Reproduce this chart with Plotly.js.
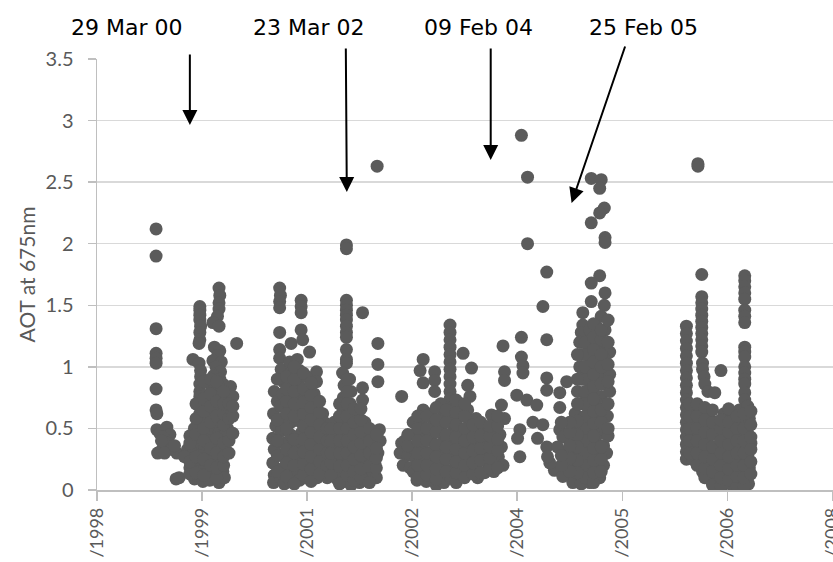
<!DOCTYPE html>
<html>
<head>
<meta charset="utf-8">
<script src="https://cdn.plot.ly/plotly-3.0.1.min.js"></script>
<style>
html,body{margin:0;padding:0;background:#fff;}
#chart{width:833px;height:562px;}
</style>
</head>
<body>
<div id="chart"></div>
<script>
// Decimal-year dates and AOT (675 nm) values, by season cluster
const yearsA = [1999.77,1999.77,1999.77,1999.77,1999.77,1999.77,1999.77,1999.77,1999.78,1999.78,1999.82,1999.91,1999.88,1999.95,1999.86,1999.79,1999.84,1999.92,1999.97,1999.99,2000.04,1999.88,2000.07,2000.03,2000.01,1999.84];
const aotA   = [2.12,1.90,1.31,1.11,1.07,1.03,0.82,0.65,0.62,0.49,0.46,0.51,0.43,0.45,0.43,0.30,0.32,0.38,0.33,0.34,0.30,0.30,0.10,0.09,0.36,0.40];

const yearsB = [2000.34,2000.34,2000.34,2000.34,2000.35,2000.34,2000.34,2000.33,2000.59,2000.60,2000.59,2000.59,2000.57,2000.51,2000.59,2000.82,
  2000.25,2000.33,2000.35,2000.35,2000.34,2000.34,2000.34,2000.53,2000.60,2000.57,2000.51,2000.62,2000.55,2000.61,2000.52,2000.60,2000.64,2000.49,2000.57,2000.74,2000.68,2000.52,2000.62,2000.77,
  2000.44,2000.56,2000.69,2000.34,2000.47,2000.61,2000.40,2000.53,2000.70,2000.27,2000.44,2000.59,2000.65,2000.21,2000.34,2000.49,2000.29,2000.40,2000.56,2000.62,2000.18,2000.25,2000.47,2000.34,2000.53,
  2000.14,2000.27,2000.42,2000.60,2000.21,2000.34,2000.49,2000.64,2000.27,2000.38,2000.47,2000.59,2000.66,
  2000.21,2000.21,2000.21,2000.29,2000.29,2000.29,2000.29,2000.29,
  2000.39,2000.39,2000.39,2000.39,2000.39,2000.39,2000.39,
  2000.48,2000.48,2000.48,2000.48,2000.48,2000.48,
  2000.56,2000.56,2000.56,2000.56,2000.56,2000.56,2000.56,
  2000.65,2000.65,2000.65,2000.65,2000.65,2000.65,2000.65,
  2000.72,2000.72,2000.72,2000.72,2000.77,2000.77,2000.77];
const aotB   = [1.49,1.46,1.42,1.38,1.33,1.28,1.22,1.19,1.64,1.58,1.52,1.47,1.41,1.36,1.33,1.19,
  1.06,1.03,0.97,0.92,0.86,0.80,0.76,1.16,1.13,1.09,1.05,1.04,1.00,0.96,0.93,0.90,0.86,0.84,0.81,0.84,0.78,0.76,0.72,0.76,
  0.70,0.67,0.65,0.62,0.60,0.58,0.55,0.53,0.50,0.50,0.48,0.46,0.44,0.44,0.42,0.40,0.37,0.35,0.36,0.33,0.33,0.30,0.29,0.28,0.26,
  0.27,0.22,0.21,0.22,0.18,0.15,0.14,0.15,0.09,0.07,0.08,0.06,0.10,
  0.13,0.23,0.38,0.14,0.27,0.45,0.58,0.70,
  0.12,0.25,0.40,0.50,0.64,0.74,0.88,
  0.20,0.34,0.55,0.68,0.78,0.90,
  0.10,0.18,0.30,0.42,0.60,0.72,0.88,
  0.20,0.27,0.38,0.53,0.62,0.70,0.80,
  0.30,0.40,0.58,0.70,0.46,0.60,0.68];

const yearsC = [2001.38,2001.39,2001.38,2001.38,2001.38,2001.38,2001.38,2001.53,2001.66,2001.66,2001.66,2001.66,2001.68,2001.77,2001.86,2001.86,
  2001.31,2001.35,2001.30,2001.33,2001.29,2001.31,2001.29,2001.31,2001.30,
  2001.40,2001.43,2001.42,2001.39,2001.43,2001.40,2001.44,2001.39,2001.43,2001.40,2001.44,
  2001.51,2001.53,2001.52,2001.55,2001.51,2001.53,2001.52,2001.55,2001.51,2001.53,2001.52,
  2001.61,2001.64,2001.62,2001.65,2001.61,2001.64,2001.66,2001.62,2001.65,2001.61,2001.64,
  2001.73,2001.75,2001.74,2001.77,2001.74,2001.78,2001.73,2001.75,2001.74,
  2001.83,2001.86,2001.85,2001.87,2001.83,2001.86,2001.85,2001.87,
  2001.94,2001.96,2001.95,2001.98,2001.94,2001.96,2002.00,
  2001.35,2001.35,2001.35,2001.35,2001.35,
  2001.47,2001.47,2001.47,2001.47,2001.47,2001.47,2001.47,2001.47,
  2001.57,2001.57,2001.57,2001.57,2001.57,2001.57,2001.57,2001.57,2001.57,
  2001.69,2001.69,2001.69,2001.69,2001.69,2001.69,2001.69,2001.69,2001.69,
  2001.79,2001.79,2001.79,2001.79,2001.79,2001.79,2001.79,2001.79,2001.79,
  2001.90,2001.90,2001.90,2001.90,2001.90,2001.90,2001.90,
  2002.00,2002.00,2002.00,2002.00];
const aotC   = [1.64,1.58,1.53,1.48,1.28,1.14,1.07,1.19,1.54,1.49,1.44,1.30,1.22,1.12,0.96,0.88,
  0.80,0.72,0.62,0.52,0.42,0.33,0.22,0.12,0.06,
  0.98,0.88,0.78,0.68,0.58,0.48,0.38,0.28,0.18,0.09,0.05,
  1.04,0.95,0.85,0.75,0.65,0.55,0.45,0.35,0.25,0.15,0.07,
  1.06,0.97,0.86,0.76,0.66,0.56,0.46,0.36,0.26,0.16,0.08,
  0.92,0.82,0.72,0.62,0.52,0.42,0.32,0.22,0.12,
  0.78,0.68,0.58,0.48,0.38,0.28,0.18,0.10,
  0.62,0.55,0.45,0.35,0.25,0.17,0.10,
  0.15,0.28,0.40,0.57,0.90,
  0.11,0.22,0.33,0.50,0.62,0.72,0.82,0.92,
  0.05,0.20,0.30,0.41,0.60,0.70,0.80,0.90,1.00,
  0.12,0.21,0.31,0.41,0.52,0.62,0.71,0.82,0.95,
  0.07,0.17,0.27,0.37,0.47,0.57,0.67,0.77,0.87,
  0.13,0.23,0.33,0.43,0.53,0.63,0.72,
  0.20,0.30,0.40,0.50];

const yearsD = [2002.25,2002.25,2002.25,2002.25,2002.25,2002.25,2002.25,2002.25,2002.25,2002.25,2002.25,2002.25,2002.25,
  2002.46,2002.65,2002.66,2002.66,2002.66,2002.46,2002.46,
  2002.09,2002.12,2002.08,2002.13,2002.10,2002.14,
  2002.20,2002.22,2002.21,2002.23,2002.20,2002.22,2002.21,2002.23,2002.20,2002.22,
  2002.29,2002.31,2002.30,2002.33,2002.29,2002.31,2002.30,2002.33,2002.29,2002.31,
  2002.39,2002.42,2002.38,2002.40,2002.43,2002.39,2002.42,
  2002.49,2002.52,2002.48,2002.51,2002.53,2002.49,
  2002.57,2002.61,2002.59,2002.62,2002.60,2002.64,
  2002.68,2002.69,2002.66,
  2002.05,2002.05,2002.05,2002.05,2002.05,
  2002.16,2002.16,2002.16,2002.16,2002.16,2002.16,2002.16,
  2002.26,2002.26,2002.26,2002.26,2002.26,2002.26,2002.26,2002.26,2002.26,
  2002.35,2002.35,2002.35,2002.35,2002.35,2002.35,2002.35,
  2002.44,2002.44,2002.44,2002.44,2002.44,2002.44,2002.44,
  2002.55,2002.55,2002.55,2002.55,2002.55,
  2002.64,2002.64,2002.64,2002.64];
const aotD   = [1.99,1.96,1.54,1.50,1.46,1.42,1.38,1.33,1.28,1.24,1.14,1.06,1.03,
  1.44,2.63,1.19,1.02,0.88,0.83,0.73,
  0.55,0.45,0.35,0.25,0.15,0.08,
  0.95,0.85,0.75,0.65,0.55,0.45,0.35,0.25,0.15,0.07,
  0.90,0.80,0.70,0.60,0.50,0.40,0.30,0.20,0.10,0.04,
  0.62,0.52,0.42,0.32,0.22,0.12,0.06,
  0.55,0.45,0.35,0.25,0.15,0.08,
  0.45,0.38,0.30,0.22,0.14,0.10,
  0.49,0.40,0.30,
  0.12,0.22,0.30,0.40,0.50,
  0.05,0.19,0.30,0.40,0.50,0.60,0.70,
  0.12,0.20,0.30,0.40,0.50,0.60,0.70,0.80,0.90,
  0.08,0.15,0.25,0.35,0.45,0.55,0.66,
  0.10,0.17,0.28,0.38,0.47,0.57,0.66,
  0.06,0.19,0.30,0.40,0.50,
  0.18,0.26,0.34,0.45];

const yearsE = [2002.97,2002.97,2003.25,2003.21,2003.25,2003.40,2003.40,2003.40,
  2003.60,2003.60,2003.60,2003.60,2003.60,2003.60,2003.60,2003.60,2003.60,2003.60,2003.60,
  2003.77,2003.88,2003.86,2003.83,2004.29,2004.31,2004.31,2004.27,2004.14,2004.31,
  2002.95,2003.01,2003.05,2002.99,2003.08,
  2003.12,2003.14,2003.10,2003.16,2003.12,2003.17,
  2003.25,2003.22,2003.26,2003.21,2003.27,2003.23,2003.29,
  2003.35,2003.38,2003.34,2003.39,2003.35,2003.38,2003.42,
  2003.48,2003.51,2003.47,2003.52,2003.48,2003.51,2003.47,2003.52,
  2003.64,2003.61,2003.65,2003.60,2003.62,2003.66,2003.61,
  2003.73,2003.75,2003.72,2003.77,2003.73,2003.75,2003.72,
  2003.83,2003.86,2003.82,2003.87,2003.83,2003.86,
  2003.94,2003.96,2003.92,2003.97,2003.94,2003.96,
  2004.05,2004.08,2004.04,2004.09,2004.05,
  2004.16,2004.18,2004.14,2004.20,2004.17,
  2004.25,2004.27,2004.23,2004.29,
  2003.05,2003.05,
  2003.18,2003.18,2003.18,2003.18,2003.18,2003.18,
  2003.30,2003.30,2003.30,2003.30,2003.30,2003.30,
  2003.42,2003.42,2003.42,2003.42,2003.42,2003.42,2003.42,
  2003.55,2003.55,2003.55,2003.55,2003.55,2003.55,
  2003.68,2003.68,2003.68,2003.68,2003.68,2003.68,2003.68,2003.68,
  2003.79,2003.79,2003.79,2003.79,2003.79,2003.79,2003.79,
  2003.90,2003.90,2003.90,2003.90,2003.90,
  2004.00,2004.00,2004.00,2004.00,2004.00,
  2004.12,2004.12,2004.12,2004.12,2004.12,
  2004.22,2004.22,2004.22,2004.22,2004.22];
const aotE   = [0.76,0.38,1.06,0.97,0.87,0.96,0.89,0.80,
  1.34,1.28,1.22,1.16,1.10,1.04,0.98,0.92,0.86,0.80,0.74,
  1.11,0.99,0.76,0.85,1.17,0.96,0.89,0.69,0.61,0.58,
  0.30,0.40,0.28,0.20,0.18,
  0.55,0.45,0.35,0.25,0.15,0.08,
  0.65,0.55,0.45,0.35,0.25,0.15,0.07,
  0.62,0.52,0.42,0.32,0.22,0.12,0.04,
  0.70,0.60,0.50,0.40,0.30,0.20,0.10,0.06,
  0.68,0.58,0.48,0.38,0.28,0.18,0.10,
  0.70,0.60,0.50,0.40,0.30,0.20,0.12,
  0.65,0.55,0.45,0.35,0.25,0.15,
  0.58,0.48,0.38,0.28,0.18,0.10,
  0.50,0.40,0.30,0.22,0.14,
  0.48,0.38,0.30,0.22,0.15,
  0.45,0.35,0.27,0.20,
  0.36,0.45,
  0.10,0.20,0.30,0.40,0.50,0.60,
  0.12,0.20,0.30,0.40,0.50,0.60,
  0.09,0.17,0.27,0.37,0.47,0.57,0.67,
  0.15,0.25,0.35,0.45,0.55,0.65,
  0.06,0.14,0.23,0.33,0.43,0.53,0.63,0.73,
  0.10,0.20,0.30,0.40,0.50,0.60,0.70,
  0.13,0.22,0.32,0.43,0.53,
  0.14,0.24,0.34,0.44,0.55,
  0.18,0.26,0.35,0.44,0.52,
  0.18,0.32,0.41,0.52,0.60];

const yearsF = [2004.53,2004.61,2004.61,2004.86,2004.81,2004.53,2004.86,2004.53,2004.55,2004.55,2004.47,2004.60,2004.73,2004.68,2004.81,2004.51,2004.48,2004.51,2004.74,2004.86,2004.86,2004.86,
  2005.44,2005.57,2005.55,2005.61,2005.55,2005.44,2005.62,2005.62,2005.55,2005.44,2005.62,2005.44,2005.61,2005.33,2005.33,2005.57,2005.35,
  2005.31,2005.42,2005.52,2005.62,
  2005.29,2005.39,2005.49,2005.60,2005.68,
  2005.31,2005.42,2005.52,2005.62,
  2005.29,2005.39,2005.49,2005.60,2005.68,
  2005.31,2005.42,2005.52,2005.62,
  2005.26,2005.36,2005.47,2005.57,2005.68,
  2005.29,2005.39,2005.49,2005.60,
  2005.23,2005.34,2005.44,2005.55,2005.65,
  2005.26,2005.36,2005.47,2005.57,2005.66,
  2005.18,2005.29,2005.39,2005.49,2005.60,
  2005.13,2005.23,2005.34,2005.44,2005.55,2005.64,
  2005.09,2005.18,2005.29,2005.39,2005.49,2005.60,
  2005.13,2005.23,2005.34,2005.44,2005.55,
  2005.20,2005.31,2005.42,
  2005.12,2005.03,2005.03,2005.03,2005.07,2004.96,2005.07,2004.90,2004.87,2005.00,
  2005.36,2005.36,2005.36,2005.36,2005.36,2005.36,2005.36,2005.36,2005.36,2005.36,2005.36,2005.36,
  2005.47,2005.47,2005.47,2005.47,2005.47,2005.47,2005.47,2005.47,2005.47,2005.47,2005.47,2005.47,2005.47,2005.47,
  2005.57,2005.57,2005.57,2005.57,2005.57,2005.57,2005.57,2005.57,2005.57,2005.57,
  2005.66,2005.66,2005.66,2005.66,2005.66,2005.66,
  2005.26,2005.26,2005.26,2005.26,2005.26,2005.26,2005.26,2005.26,
  2005.16,2005.16,2005.16,2005.16,2005.16,
  2005.05,2005.05,2005.05];
const aotF   = [2.88,2.54,2.00,1.77,1.49,1.24,1.22,1.08,1.01,0.95,0.77,0.73,0.69,0.55,0.53,0.49,0.42,0.27,0.42,0.35,0.91,0.81,
  2.53,2.52,2.45,2.29,2.25,2.17,2.05,2.01,1.74,1.68,1.60,1.53,1.50,1.44,1.34,1.41,1.23,
  1.28,1.30,1.32,1.30,
  1.20,1.18,1.22,1.18,1.12,
  1.10,1.08,1.12,1.06,
  1.00,0.98,1.02,0.96,0.94,
  0.90,0.88,0.92,0.86,
  0.80,0.78,0.82,0.76,0.80,
  0.70,0.68,0.72,0.66,
  0.62,0.58,0.62,0.56,0.60,
  0.50,0.48,0.52,0.46,0.44,
  0.42,0.40,0.38,0.42,0.36,
  0.32,0.30,0.28,0.32,0.26,0.30,
  0.22,0.20,0.18,0.22,0.16,0.20,
  0.12,0.10,0.12,0.08,0.10,
  0.06,0.05,0.06,
  0.88,0.79,0.67,0.49,0.43,0.16,0.11,0.22,0.27,0.35,
  0.10,0.20,0.30,0.40,0.50,0.60,0.70,0.80,0.90,1.00,1.10,1.20,
  0.06,0.14,0.24,0.34,0.44,0.54,0.64,0.74,0.84,0.94,1.04,1.14,1.24,1.35,
  0.15,0.25,0.35,0.55,0.65,0.86,1.00,1.10,1.22,1.30,
  0.50,0.70,0.88,1.02,1.20,1.38,
  0.14,0.24,0.35,0.45,0.56,0.70,0.90,1.10,
  0.15,0.26,0.36,0.47,0.55,
  0.20,0.28,0.55];

const yearsG = [2006.83,2006.83,
  2006.88,2006.88,2006.88,2006.88,2006.88,2006.88,2006.88,2006.88,2006.88,2006.88,2006.88,
  2006.89,2006.89,2006.91,2006.92,2006.96,2007.05,2007.13,
  2006.68,2006.68,2006.68,2006.68,2006.68,2006.68,2006.68,2006.68,2006.68,2006.68,2006.68,2006.68,2006.68,2006.68,2006.68,2006.68,2006.68,2006.68,2006.68,
  2007.44,2007.44,2007.44,2007.44,2007.44,2007.44,2007.44,2007.44,2007.44,2007.44,2007.44,2007.44,2007.44,2007.44,2007.44,2007.44,2007.44,
  2006.76,2006.80,2006.75,2006.79,2006.76,
  2006.85,2006.89,2006.84,2006.88,2006.85,2006.89,
  2006.96,2006.98,2006.94,2006.99,2006.96,2006.98,2007.01,
  2007.06,2007.09,2007.05,2007.10,2007.06,2007.10,
  2007.17,2007.19,2007.15,2007.20,2007.17,2007.20,2007.18,
  2007.27,2007.30,2007.26,2007.31,2007.27,2007.31,2007.28,
  2007.37,2007.40,2007.36,2007.41,2007.37,2007.40,2007.37,
  2007.48,2007.50,2007.47,2007.52,2007.48,2007.50,2007.47,2007.49,
  2006.72,2006.72,2006.72,2006.72,2006.72,
  2006.82,2006.82,2006.82,2006.82,2006.82,2006.82,
  2006.92,2006.92,2006.92,2006.92,2006.92,2006.92,2006.92,
  2007.02,2007.02,2007.02,2007.02,2007.02,2007.02,2007.02,
  2007.13,2007.13,2007.13,2007.13,2007.13,2007.13,2007.13,
  2007.23,2007.23,2007.23,2007.23,2007.23,2007.23,2007.23,
  2007.34,2007.34,2007.34,2007.34,2007.34,2007.34,2007.34,
  2007.43,2007.43,2007.43,2007.43,2007.43,2007.43,2007.43,
  2007.52,2007.52,2007.52,2007.52,2007.52,2007.52];
const aotG   = [2.65,2.63,
  1.75,1.57,1.52,1.47,1.42,1.37,1.32,1.27,1.22,1.17,1.12,
  1.03,0.98,0.92,0.86,0.80,0.79,0.97,
  1.33,1.27,1.21,1.15,1.09,1.03,0.97,0.91,0.85,0.79,0.73,0.67,0.61,0.55,0.49,0.43,0.37,0.31,0.25,
  1.74,1.70,1.65,1.60,1.55,1.46,1.41,1.36,1.16,1.12,1.08,1.00,0.95,0.90,0.86,0.79,0.73,
  0.65,0.55,0.45,0.35,0.25,
  0.62,0.52,0.42,0.32,0.22,0.15,
  0.60,0.50,0.40,0.30,0.20,0.12,0.07,
  0.55,0.45,0.35,0.25,0.15,0.08,
  0.62,0.52,0.42,0.32,0.22,0.12,0.05,
  0.58,0.48,0.38,0.28,0.18,0.10,0.04,
  0.65,0.55,0.45,0.35,0.25,0.15,0.06,
  0.68,0.58,0.48,0.38,0.28,0.18,0.10,0.05,
  0.30,0.40,0.50,0.60,0.70,
  0.20,0.30,0.40,0.50,0.60,0.70,
  0.10,0.18,0.27,0.37,0.47,0.57,0.67,
  0.04,0.15,0.25,0.35,0.45,0.55,0.65,
  0.03,0.10,0.20,0.30,0.40,0.50,0.57,
  0.08,0.17,0.27,0.37,0.47,0.55,0.66,
  0.03,0.11,0.20,0.30,0.40,0.50,0.60,
  0.03,0.10,0.20,0.30,0.40,0.50,0.62,
  0.13,0.23,0.33,0.43,0.53,0.64];

// Axis tick labels (visible part of the date labels of the original axis)
const xTickText = ["/1998","/1999","/2001","/2002","/2004","/2005","/2006","/2008"];
const yTickVals = [0,0.5,1,1.5,2,2.5,3,3.5];

// Event annotations
const eventLabels = ["29 Mar 00","23 Mar 02","09 Feb 04","25 Feb 05"];

const xs = [].concat(yearsA,yearsB,yearsC,yearsD,yearsE,yearsF,yearsG);
const ys = [].concat(aotA,aotB,aotC,aotD,aotE,aotF,aotG);

const xStart = 1999.0, stepYears = 500/365.25;
const xTickVals = xTickText.map((t,i)=> xStart + i*stepYears);

const trace = {
  x: xs, y: ys, type:'scatter', mode:'markers',
  marker:{size:13, color:'#5b5b5b'},
  hoverinfo:'x+y', showlegend:false
};

const annFont = {family:'"DejaVu Sans", sans-serif', size:22, color:'#000'};
const textPos = [1999.39, 2001.75, 2003.97, 2006.12];
const arrows = [
  {x:2000.21, y:2.964, ax:0, ay:-72},
  {x:2002.255, y:2.42, ax:-1, ay:-145},
  {x:2004.13, y:2.68, ax:0, ay:-113},
  {x:2005.184, y:2.331, ax:54, ay:-158}
];
const annotations = [];
eventLabels.forEach((t,i)=>{
  annotations.push({text:t, x:textPos[i], xref:'x', y:1.074, yref:'paper', showarrow:false,
    xanchor:'center', yanchor:'middle', font:annFont});
  const a = arrows[i];
  annotations.push({text:'', x:a.x, y:a.y, xref:'x', yref:'y', ax:a.ax, ay:a.ay,
    showarrow:true, arrowhead:2, arrowsize:1.5, arrowwidth:2, arrowcolor:'#000', standoff:0, startstandoff:0});
});

const gray = '#595959';
const layout = {
  width:833, height:562,
  margin:{l:97, r:0, t:59, b:72, pad:0},
  paper_bgcolor:'#fff', plot_bgcolor:'#fff',
  font:{family:'Lato, "Open Sans", sans-serif', color:gray},
  xaxis:{
    range:[xStart, 2008.59], showgrid:false, zeroline:false,
    showline:true, linecolor:'#bfbfbf', linewidth:1.5,
    ticks:'outside', ticklen:9, tickcolor:'#bfbfbf', tickwidth:1.5,
    tickmode:'array', tickvals:xTickVals, ticktext:xTickText,
    tickangle:-90, tickfont:{size:18, color:gray, family:'Lato, sans-serif'},
    ticklabeloverflow:'allow',
    automargin:false
  },
  yaxis:{
    range:[0,3.5], showgrid:true, gridcolor:'#d9d9d9', gridwidth:1.5, zeroline:false,
    showline:true, linecolor:'#bfbfbf', linewidth:1.5,
    ticks:'outside', ticklen:8, tickcolor:'#bfbfbf', tickwidth:1.5,
    tickmode:'array', tickvals:yTickVals, ticktext:yTickVals.map(String),
    tickfont:{size:20, color:gray, family:'Lato, sans-serif'},
    ticklabelstandoff:10,
    title:{text:'AOT at 675nm', standoff:4, font:{size:21, color:gray, family:'Lato, sans-serif'}},
    automargin:false
  },
  annotations: annotations
};

Plotly.newPlot('chart', [trace], layout, {staticPlot:true, displayModeBar:false});
</script>
</body>
</html>
